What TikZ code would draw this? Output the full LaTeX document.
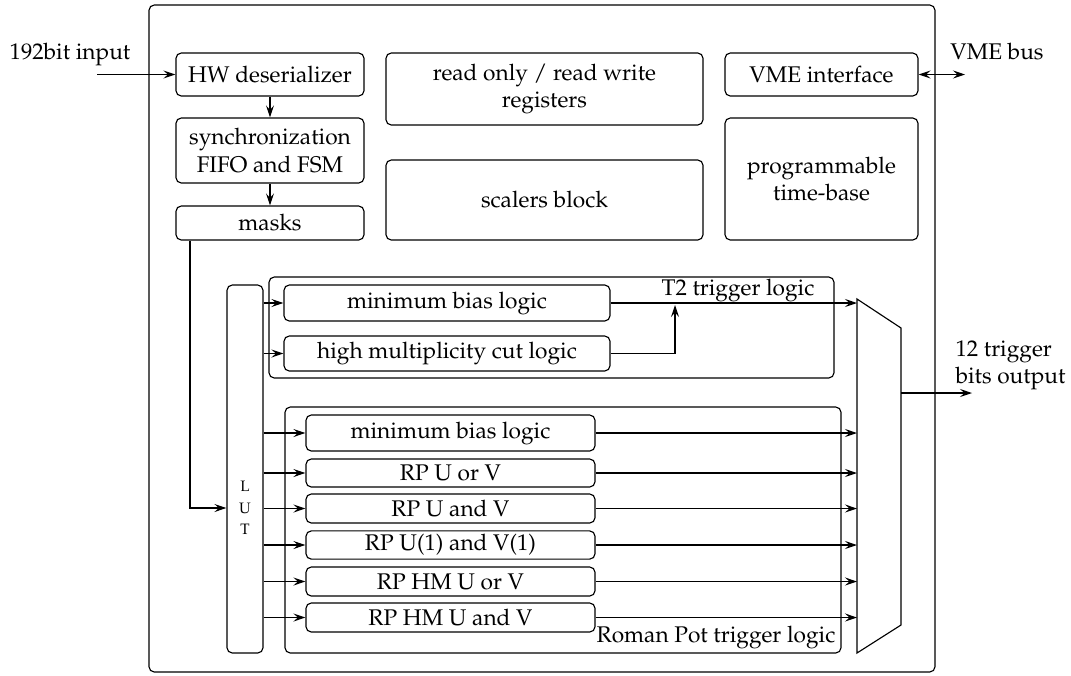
\documentclass[tikz,border=0pt]{standalone}
\usepackage[T1]{fontenc}
\usepackage{mathpazo}
\usetikzlibrary{arrows.meta}
\begin{document}
\begin{tikzpicture}[
		font=\fontsize{12.9}{15.5}\selectfont,
		line width=0.65pt,
		>={Stealth[length=2.4mm, width=1.6mm, inset=0.9mm]},
		box/.style={draw, rounded corners=3pt, align=center, inner sep=2pt},
		rpbox/.style={box, minimum width=5.78cm},
		lbl/.style={inner sep=0pt, align=left}
	]
	\useasboundingbox (0,0) rectangle (21.42,-13.5);
	
	% Placa
	\node[box, minimum width=15.72cm, minimum height=13.34cm] (board) at (10.84,-6.77) {};
	
	% Columna izquierda
	\node[box, minimum width=3.76cm, minimum height=0.86cm] (hw) at (5.40,-1.49) {HW deserializer};
	\node[box, minimum width=3.76cm, minimum height=1.30cm] (sync) at (5.40,-3.01) {synchronization\\FIFO and FSM};
	\node[box, minimum width=3.76cm, minimum height=0.68cm] (masks) at (5.40,-4.46) {masks};
	
	% Bloques centrales y derechos
	\node[box, minimum width=6.34cm, minimum height=1.44cm] (regs) at (10.89,-1.78) {read only / read write\\registers};
	\node[box, minimum width=6.34cm, minimum height=1.60cm] (scalers) at (10.89,-4.00) {scalers block};
	\node[box, minimum width=3.86cm, minimum height=0.86cm] (vme) at (16.43,-1.49) {VME interface};
	\node[box, minimum width=3.86cm, minimum height=2.44cm] (timebase) at (16.43,-3.58) {programmable\\time-base};
	
	% LUT
	\node[box, minimum width=0.72cm, minimum height=7.36cm] (lut) at (4.90,-9.38) {};
	\node[lbl, align=center, font=\fontsize{8.6}{12.2}\selectfont] (lutlbl) at (4.90,-10.16) {L\\U\\T};
	
	% Logica T2
	\node[box, minimum width=11.30cm, minimum height=2.02cm] (t2) at (11.03,-6.55) {};
	\node[box, minimum width=6.52cm, minimum height=0.72cm] (t2mb) at (8.94,-6.06) {minimum bias logic};
	\node[box, minimum width=6.52cm, minimum height=0.70cm] (t2hm) at (8.94,-7.07) {high multiplicity cut logic};
	\node[lbl] (t2lbl) at (14.76,-5.80) {T2 trigger logic};
	
	% Logica Roman Pot
	\node[box, minimum width=11.12cm, minimum height=4.92cm] (rp) at (11.26,-10.60) {};
	\node[rpbox, minimum height=0.72cm] (rp1) at (9.01,-8.66) {minimum bias logic};
	\node[rpbox, minimum height=0.56cm] (rp2) at (9.01,-9.46) {RP U or V};
	\node[rpbox, minimum height=0.58cm] (rp3) at (9.01,-10.17) {RP U and V};
	\node[rpbox, minimum height=0.56cm] (rp4) at (9.01,-10.90) {RP U(1) and V(1)};
	\node[rpbox, minimum height=0.58cm] (rp5) at (9.01,-11.63) {RP HM U or V};
	\node[rpbox, minimum height=0.58cm] (rp6) at (9.01,-12.35) {RP HM U and V};
	\node[lbl] (rplbl) at (14.32,-12.74) {Roman Pot trigger logic};
	
	% Multiplexor
	\coordinate (mtl) at (17.14,-5.98);
	\coordinate (mtr) at (18.02,-6.56);
	\coordinate (mbr) at (18.02,-12.50);
	\coordinate (mbl) at (17.14,-13.06);
	\draw (mtl) -- (mtr) -- (mbr) -- (mbl) -- cycle;
	
	% Entradas y salidas
	\coordinate (inp) at (1.94,-1.49);
	\coordinate (vmeend) at (19.30,-1.49);
	\coordinate (out) at (18.02,-7.86);
	\coordinate (outend) at (19.44,-7.86);
	\node[lbl] (inlbl) at (1.40,-1.08) {192bit input};
	\node[lbl] (vmelbl) at (19.94,-1.04) {VME bus};
	\node[lbl, anchor=west] (outlbl) at (19.10,-7.30) {12 trigger\\bits output};
	
	\draw[->] (inp) -- (hw.west);
	\draw[<->] (vme.east) -- (vmeend);
	\draw[->] (hw.south) -- (sync.north);
	\draw[->] (sync.south) -- (masks.north);
	\coordinate (turn) at (3.80,-10.16);
	\draw[->] (turn |- masks.south) -- (turn) -- (turn -| lut.west);
	
	% Flechas desde la LUT
	\foreach \b in {t2mb,t2hm,rp1,rp2,rp3,rp4,rp5,rp6}
		\draw[->] (lut.east |- \b.west) -- (\b.west);
	
	% Flechas hacia el multiplexor
	\draw[->] (t2mb.east) -- (t2mb.east -| mtl);
	\coordinate (t2join) at (13.50,-6.10);
	\draw[->] (t2hm.east) -| (t2join);
	\foreach \b in {rp1,rp2,rp3,rp4,rp5,rp6}
		\draw[->] (\b.east) -- (\b.east -| mtl);
	\draw[->] (out) -- (outend);
\end{tikzpicture}
\end{document}
